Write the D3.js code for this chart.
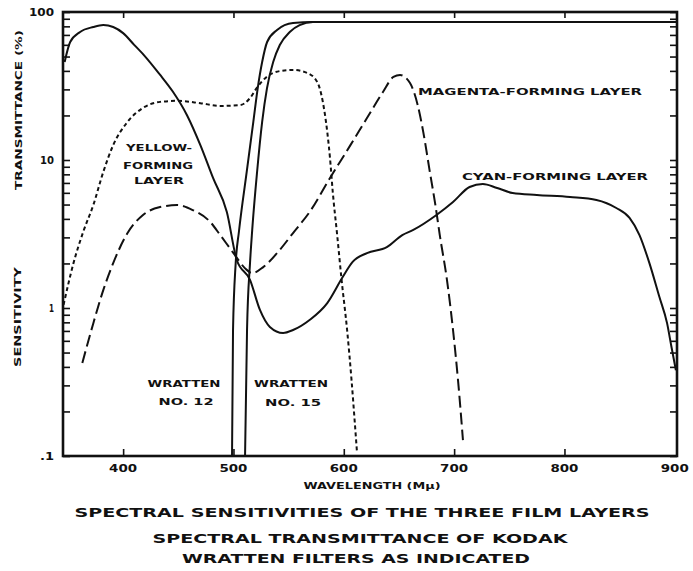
<!DOCTYPE html>
<html>
<head>
<meta charset="utf-8">
<script src="https://cdn.jsdelivr.net/npm/d3@7"></script>
<style>
  html, body { margin: 0; padding: 0; background: #fff; }
  svg { display: block; }
  text { font-family: "DejaVu Sans", sans-serif; font-weight: bold; fill: #111; }
</style>
</head>
<body>
<svg id="chart" width="693" height="571"></svg>
<script>
// ---------- data (wavelength in mμ, value in % / relative sensitivity) ----------
const cyanWl  = [347, 352, 361, 373, 382, 391, 400, 410, 420, 433, 445, 458, 470, 481.5, 494, 503, 515, 524, 533, 545, 554, 569, 585, 599, 608, 621, 639, 653, 663, 684, 699, 714, 726, 739, 753, 775, 805, 829, 847, 859, 868, 877, 886, 893, 897, 901];
const cyanVal = [46, 62.7, 73.3, 79.2, 81.6, 79.2, 72, 60, 50, 38, 29, 20, 12.6, 7.56, 4.45, 2.11, 1.55, 0.97, 0.745, 0.678, 0.71, 0.83, 1.08, 1.62, 2.05, 2.35, 2.58, 3.11, 3.37, 4.25, 5.2, 6.57, 6.89, 6.47, 5.98, 5.8, 5.62, 5.37, 4.74, 4.06, 3.11, 2.01, 1.19, 0.79, 0.545, 0.38];

const yellowWl  = [346, 355, 364, 373, 382, 391, 404, 418, 433.5, 449, 470, 488, 506, 515, 521, 530, 542, 554, 567, 576, 581, 585, 587.5, 590, 594, 598, 603, 607, 610, 612];
const yellowVal = [1.05, 2.01, 3.3, 4.97, 8.3, 12.6, 18.1, 22.5, 24.7, 25.1, 24.2, 23.2, 23.5, 26.2, 30.6, 36.4, 39.9, 40.6, 38.7, 33.6, 24.7, 15.5, 10.3, 6.08, 3.11, 1.55, 0.71, 0.327, 0.167, 0.105];

const magentaWl  = [363, 373, 382, 391, 404, 418, 433.5, 449, 463, 479, 488, 500, 512, 517, 527, 542, 554, 569, 587.5, 606, 621, 635.5, 645, 651, 660, 667, 672, 678, 683, 687, 693.5, 699, 703.5, 708];
const magentaVal = [0.425, 0.79, 1.32, 2.01, 3.21, 4.25, 4.81, 4.96, 4.59, 3.81, 3.11, 2.35, 1.81, 1.72, 1.89, 2.47, 3.21, 4.45, 7.56, 12.6, 19.2, 28.8, 36.4, 37.5, 33.1, 23.5, 15.5, 8.3, 4.97, 3.11, 1.55, 0.71, 0.327, 0.128];

const wratten12Wl  = [498.7, 499.6, 502, 505, 512, 518, 522, 526, 530.5, 539.5, 554, 572, 902];
const wratten12Val = [0.1, 0.71, 2.0, 3.3, 8.3, 18.1, 30.6, 45.9, 62.7, 75.6, 84.3, 85.5, 85.5];

const wratten15Wl  = [510.5, 512.3, 515, 517, 521.4, 526, 530.4, 536, 542, 551, 560, 572, 902];
const wratten15Val = [0.1, 0.71, 2.01, 3.37, 8.3, 18.1, 30.6, 45.9, 59.8, 73.3, 81.6, 85.5, 85.5];

const xTicks = [400, 500, 600, 700, 800, 900];
const yTickValues = [100, 10, 1, 0.1];
const yTickLabels = ["100", "10", "1", ".1"];

const titleLines = [
  "SPECTRAL SENSITIVITIES OF THE THREE FILM LAYERS",
  "SPECTRAL TRANSMITTANCE OF KODAK",
  "WRATTEN FILTERS AS INDICATED"
];

// ---------- scales ----------
const svg = d3.select("#chart");
const x = d3.scaleLinear().domain([345.5, 902]).range([63, 677]);
const y = d3.scaleLog().domain([0.1, 100]).range([456, 12]);
const [x0, x1] = x.range();
const [yb, yt] = y.range();

const ink = "#111";

// ---------- curves ----------
const line = d3.line().x(d => x(d[0])).y(d => y(d[1])).curve(d3.curveMonotoneX);
const zip = (a, b) => a.map((v, i) => [v, b[i]]);

const series = [
  { wl: yellowWl,   val: yellowVal,   dash: "4,3" },
  { wl: magentaWl,  val: magentaVal,  dash: "12,5" },
  { wl: cyanWl,     val: cyanVal,     dash: null },
  { wl: wratten12Wl, val: wratten12Val, dash: null },
  { wl: wratten15Wl, val: wratten15Val, dash: null }
];

svg.append("defs").append("clipPath").attr("id", "plotclip")
  .append("rect").attr("x", x0).attr("y", yt).attr("width", x1 - x0).attr("height", yb - yt);

const g = svg.append("g").attr("clip-path", "url(#plotclip)");
series.forEach(s => {
  g.append("path")
    .attr("d", line(zip(s.wl, s.val)))
    .attr("fill", "none")
    .attr("stroke", ink)
    .attr("stroke-width", 2)
    .attr("stroke-dasharray", s.dash)
    .attr("stroke-linejoin", "round");
});

// ---------- axes (frame + inward ticks) ----------
const bottomAxis = d3.axisBottom(x).tickValues(xTicks.slice(0, -1)).tickSize(-7).tickFormat("");
const topAxis = d3.axisTop(x).tickValues(xTicks.slice(0, -1)).tickSize(-6).tickFormat("");
const logTicks = [];
[0.1, 1, 10].forEach(d => { for (let k = 1; k < 10; k++) logTicks.push(d * k); });
logTicks.push(100);
const leftAxis = d3.axisLeft(y).tickValues(logTicks).tickSize(-7).tickFormat("");
const rightAxis = d3.axisRight(y).tickValues(logTicks).tickSize(-7).tickFormat("");

function styleAxis(sel) {
  sel.select(".domain").remove();
  sel.selectAll(".tick line").attr("stroke", ink).attr("stroke-width", 1.6);
}
svg.append("g").attr("transform", `translate(0,${yb})`).call(bottomAxis).call(styleAxis);
svg.append("g").attr("transform", `translate(0,${yt})`).call(topAxis).call(styleAxis);
svg.append("g").attr("transform", `translate(${x0},0)`).call(leftAxis).call(styleAxis);
svg.append("g").attr("transform", `translate(${x1},0)`).call(rightAxis).call(styleAxis);

svg.append("rect")
  .attr("x", x0).attr("y", yt).attr("width", x1 - x0).attr("height", yb - yt)
  .attr("fill", "none").attr("stroke", ink).attr("stroke-width", 2.6);

// ---------- text helper ----------
function label(px, py, str, size, opts = {}) {
  const t = svg.append("text")
    .attr("x", px).attr("y", py)
    .attr("font-size", size)
    .attr("text-anchor", opts.anchor || "middle")
    .text(str);
  if (opts.len) t.attr("textLength", opts.len).attr("lengthAdjust", "spacingAndGlyphs");
  if (opts.rotate) t.attr("transform", `rotate(${opts.rotate},${px},${py})`);
  return t;
}

// tick labels
xTicks.forEach(v => label(x(v), 471.5, String(v), 11, { len: 28 }));
yTickValues.forEach((v, i) => {
  const s = yTickLabels[i];
  label(54, y(v) + 4, s, 11, { anchor: "end", len: s.length === 3 ? 25 : (s.length === 2 ? 14 : 5) });
});

// axis titles
label(22, 110, "TRANSMITTANCE (%)", 9, { rotate: -90, len: 160 });
label(21, 317, "SENSITIVITY", 9, { rotate: -90, len: 100 });
label(372, 489, "WAVELENGTH (Mμ)", 9, { len: 137 });

// in-plot annotations
label(159, 151, "YELLOW-", 9, { len: 66 });
label(158, 169, "FORMING", 9, { len: 70 });
label(159, 184, "LAYER", 9, { len: 50 });
label(530, 95, "MAGENTA-FORMING LAYER", 9, { len: 224 });
label(555, 180, "CYAN-FORMING LAYER", 9, { len: 186 });
label(184, 387, "WRATTEN", 9, { len: 73 });
label(186, 405, "NO. 12", 9, { len: 55 });
label(291, 387, "WRATTEN", 9, { len: 74 });
label(293, 406, "NO. 15", 9, { len: 56 });

// caption
label(362, 517, titleLines[0], 11.5, { len: 575 });
label(360, 543, titleLines[1], 11.5, { len: 415 });
label(356, 563, titleLines[2], 11.5, { len: 348 });
</script>
</body>
</html>
